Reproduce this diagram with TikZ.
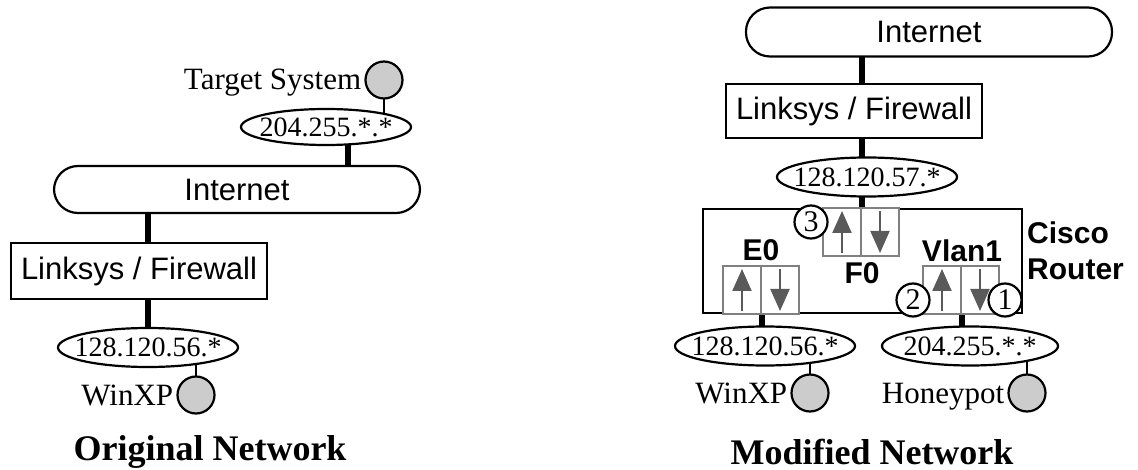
\documentclass[tikz,border=0pt]{standalone}
\usepackage{fontspec}
\setmainfont{Liberation Serif}
\setsansfont{Liberation Sans}
\usetikzlibrary{shapes.geometric,arrows.meta,backgrounds}
\definecolor{hostgray}{RGB}{204,204,204}
\definecolor{portgray}{RGB}{128,128,128}
\definecolor{arrowgray}{RGB}{90,90,90}
\begin{document}
\begin{tikzpicture}[x=1pt,y=-1pt,
  box/.style={draw,line width=2.2pt,fill=white,inner sep=0pt,font=\sffamily\fontsize{31}{36}\selectfont},
  stadium/.style={box,rounded corners=24pt},
  ipnode/.style={ellipse,draw,line width=2.2pt,fill=white,inner sep=0pt,minimum width=180pt,minimum height=39pt,
    label={[iptext]center:#1}},
  iptext/.style={inner sep=0pt,font=\fontsize{28}{32}\selectfont},
  host/.style={circle,draw,line width=2.2pt,fill=hostgray,minimum size=37pt,inner sep=0pt},
  hostlabel/.style={anchor=base east,inner sep=0pt,font=\fontsize{31}{36}\selectfont},
  num/.style={circle,draw,line width=2.2pt,fill=white,minimum size=33pt,inner sep=0pt,font=\fontsize{30}{32}\selectfont},
  cell/.style={draw=portgray,line width=2pt,fill=white,minimum width=38pt,minimum height=48pt,inner sep=0pt},
  iflabel/.style={inner sep=0pt,font=\sffamily\bfseries\fontsize{30}{36}\selectfont},
  title/.style={inner sep=0pt,font=\bfseries\fontsize{36}{40}\selectfont},
  thickc/.style={line width=6pt},
  thinc/.style={line width=2.2pt},
  arr/.style={draw=arrowgray,line width=2pt,-{Triangle[length=22pt,width=19pt]}}]
\useasboundingbox (0,0) rectangle (1138,470);
% ---------- Original network ----------
\node[host] (tsc) at (384,80) {};
\node[hostlabel] (tsl) at ([xshift=-3pt,yshift=-10pt]tsc.west) {Target System};
\node[ipnode={204.255.*.*},minimum width=170pt,minimum height=36pt] (ipl1) at (326,127) {};
\node[stadium,minimum width=366pt,minimum height=47pt] (inetl) at (237,189.5) {Internet};
\node[box,minimum width=256pt,minimum height=56pt] (fwl) at (139,271) {Linksys / Firewall};
\node[ipnode={128.120.56.*}] (ipl2) at (148,347.5) {};
\node[host] (wxl) at (196,395) {};
\node[hostlabel] (wxll) at ([xshift=-3pt,yshift=-10pt]wxl.west) {WinXP};
\node[title] (titl) at (210,452) {Original Network};
% ---------- Modified network ----------
\node[stadium,minimum width=366pt,minimum height=49pt] (inetr) at (929,32) {Internet};
\node[box,minimum width=256pt,minimum height=54pt] (fwr) at (854,111) {Linksys / Firewall};
\node[ipnode={128.120.57.*}] (ipr1) at (867,177) {};
\node[draw,line width=2.2pt,fill=white,minimum width=319pt,minimum height=104pt,inner sep=0pt] (router) at (862.5,261) {};
\node[cell] (f0u) at (842,232) {};
\node[cell] (f0d) at (880,232) {};
\node[cell] (e0u) at (742,290) {};
\node[cell] (e0d) at (780,290) {};
\node[cell] (v1u) at (942,290) {};
\node[cell] (v1d) at (980,290) {};
\foreach \c in {f0u,e0u,v1u}
  \draw[arr] ([yshift=4pt]\c.south) -- ([yshift=-4pt]\c.north);
\foreach \c in {f0d,e0d,v1d}
  \draw[arr] ([yshift=-4pt]\c.north) -- ([yshift=4pt]\c.south);
\node[num] (n3) at (811,222) {3};
\node[num] (n2) at (913,300) {2};
\node[num] (n1) at (1005,300) {1};
\node[iflabel] (e0l) at (761,250) {E0};
\node[iflabel] (f0l) at (862,273) {F0};
\node[iflabel] (v1l) at (962,251) {Vlan1};
\node[iflabel,anchor=west,align=left] (cisco) at (1027,251) {Cisco\\Router};
\node[ipnode={128.120.56.*}] (ipr2) at (765,346) {};
\node[ipnode={204.255.*.*},minimum width=176pt] (ipr3) at (970,346) {};
\node[host] (wxr) at (810,393) {};
\node[hostlabel] (wxrl) at ([xshift=-3pt,yshift=-10pt]wxr.west) {WinXP};
\node[host] (hpr) at (1027,393) {};
\node[hostlabel] (hprl) at ([xshift=-3pt,yshift=-10pt]hpr.west) {Honeypot};
\node[title] (titr) at (872,452) {Modified Network};
% ---------- connectors ----------
\begin{scope}[on background layer]
\draw[thinc] (tsc.center) -- (tsc.center |- ipl1.center);
\draw[thickc] (ipl1.-40) -- (ipl1.-40 |- inetl.center);
\draw[thickc] (inetl.center -| ipl2.center) -- (fwl.center -| ipl2.center);
\draw[thickc] (fwl.center -| ipl2.center) -- (ipl2.center);
\draw[thinc] (ipl2.center -| wxl.center) -- (wxl.center);
\draw[thickc] (inetr.center -| f0u.east) -- (fwr.center -| f0u.east);
\draw[thickc] (fwr.center -| f0u.east) -- (ipr1.center -| f0u.east);
\draw[thickc] (ipr1.center -| f0u.east) -- (f0u.east);
\draw[thickc] (e0u.east) -- (e0u.east |- ipr2.center);
\draw[thickc] (v1u.east) -- (v1u.east |- ipr3.center);
\draw[thinc] (ipr2.center -| wxr.center) -- (wxr.center);
\draw[thinc] (ipr3.center -| hpr.center) -- (hpr.center);
\end{scope}
\end{tikzpicture}
\end{document}
